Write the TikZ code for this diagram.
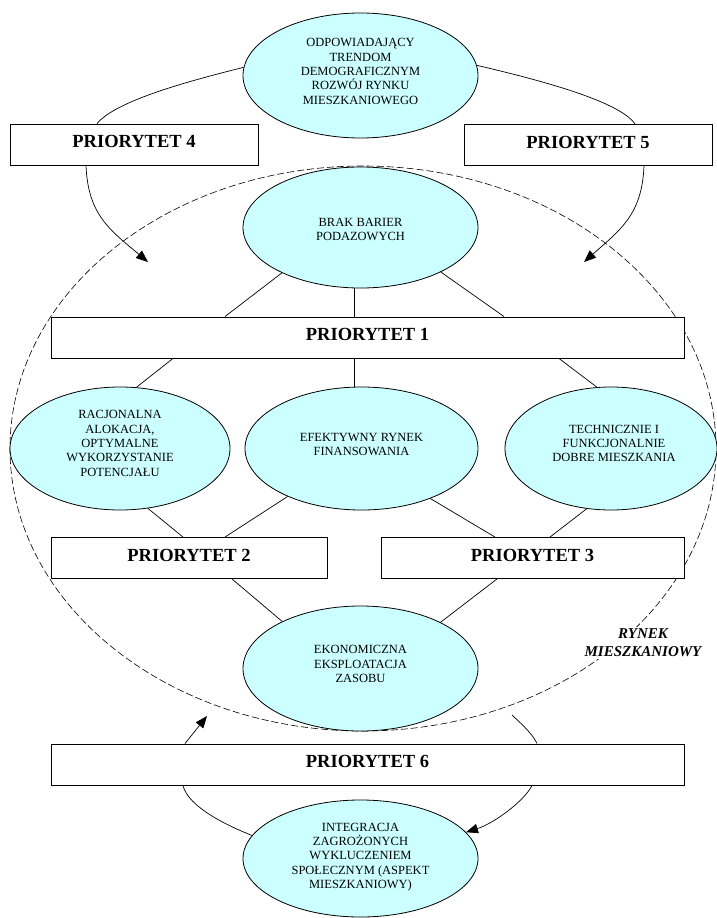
\documentclass[tikz,border=0pt]{standalone}
\usepackage{fontspec}
\setmainfont{Liberation Serif}
\usetikzlibrary{arrows.meta,shapes.geometric}
\definecolor{cyanfill}{RGB}{204,255,255}
\begin{document}
\begin{tikzpicture}[x=1pt,y=-1pt,
  ell/.style={ellipse, draw=black, line width=0.8pt, fill=cyanfill, inner sep=0pt},
  elltext/.style={inner sep=0pt, align=center, font=\fontsize{12.5}{14.3}\selectfont},
  prio/.style={rectangle, draw=black, line width=0.9pt, fill=white, inner sep=0pt,
    minimum height=41pt, text height=12.2pt, text depth=6pt,
    font=\fontsize{18.5}{20}\selectfont\bfseries},
  conn/.style={line width=0.7pt},
  arr/.style={line width=0.7pt, -{Triangle[length=12pt,width=9.5pt]}},
  market/.style={ellipse, draw=black, dash pattern=on 7pt off 3pt, line width=0.6pt, inner sep=0pt}
]
\useasboundingbox (0,0) rectangle (717,918);

% dashed market ellipse
\node[market, minimum width=706pt, minimum height=565pt] (mkt) at (363,448.5) {};
\node[fill=white, inner sep=2pt, align=center, font=\fontsize{15}{18}\selectfont\bfseries\itshape]
  (mktlabel) at (643,643) {RYNEK\\MIESZKANIOWY};

% ellipses
\node[ell, minimum width=235pt, minimum height=125pt] (ntop) at (360.5,75.5) {};
\node[elltext] (ntoptext) at ([yshift=4pt]ntop.center)
  {ODPOWIADAJĄCY\\TRENDOM\\DEMOGRAFICZNYM\\ROZWÓJ RYNKU\\MIESZKANIOWEGO};
\node[ell, minimum width=235pt, minimum height=121pt] (brak) at (360.5,227.5) {};
\node[elltext] (braktext) at ([yshift=-2pt]brak.center) {BRAK BARIER\\PODAZOWYCH};
\node[ell, minimum width=220pt, minimum height=123pt] (rac) at (120,448.5) {};
\node[elltext] (ractext) at ([yshift=5pt]rac.center)
  {RACJONALNA\\ALOKACJA,\\OPTYMALNE\\WYKORZYSTANIE\\POTENCJAŁU};
\node[ell, minimum width=233pt, minimum height=123pt] (efe) at (361.5,448.5) {};
\node[elltext] (efetext) at ([yshift=4pt]efe.center) {EFEKTYWNY RYNEK\\FINANSOWANIA};
\node[ell, minimum width=212pt, minimum height=123pt] (tech) at (611,448.5) {};
\node[elltext] (techtext) at ([xshift=3pt,yshift=5pt]tech.center)
  {TECHNICZNIE I\\FUNKCJONALNIE\\DOBRE MIESZKANIA};
\node[ell, minimum width=235pt, minimum height=125pt] (ekon) at (360.5,668.5) {};
\node[elltext] (ekontext) at ([yshift=4.5pt]ekon.center) {EKONOMICZNA\\EKSPLOATACJA\\ZASOBU};
\node[ell, minimum width=235pt, minimum height=117pt] (integ) at (360.5,858.5) {};
\node[elltext] (integtext) at ([yshift=1.5pt]integ.center)
  {INTEGRACJA\\ZAGROŻONYCH\\WYKLUCZENIEM\\SPOŁECZNYM (ASPEKT\\MIESZKANIOWY)};

% priority boxes
\node[prio, minimum width=248pt] (p4) at (134,144.5) {PRIORYTET 4};
\node[prio, minimum width=248pt] (p5) at (588,145) {PRIORYTET 5};
\node[prio, minimum width=633pt] (p1) at (367.5,337.5) {PRIORYTET 1};
\node[prio, minimum width=276pt] (p2) at (189,558) {PRIORYTET 2};
\node[prio, minimum width=303pt] (p3) at (532.5,558) {PRIORYTET 3};
\node[prio, minimum width=633pt] (p6) at (367.5,764.5) {PRIORYTET 6};

% free ends
\coordinate (tip4) at (148,262);
\coordinate (tip5) at (584,262);
\coordinate (tip6) at (207,716);
\coordinate (start6) at (512,715);

% top connectors
\draw[conn] (ntop.176) .. controls (185,82) and (116,101) .. ([xshift=-37pt]p4.north);
\draw[conn] (ntop.5) .. controls (522,76) and (618.5,99) .. ([xshift=47pt]p5.north);
\draw[arr] ([xshift=-48pt]p4.south) .. controls (88,215) and (110,230) .. (tip4);
\draw[arr] ([xshift=56pt]p5.south) .. controls (642,215) and (620,230) .. (tip5);

% brak to P1
\draw[conn] (brak.210) -- ([xshift=-142.5pt]p1.north);
\draw[conn] (brak.264) -- (brak.264 |- p1.north);
\draw[conn] (brak.331) -- ([xshift=136.5pt]p1.north);

% P1 to ellipses
\draw[conn] ([xshift=-194.5pt]p1.south) -- (rac.75);
\draw[conn] (efe.97 |- p1.south) -- (efe.97);
\draw[conn] ([xshift=191.5pt]p1.south) -- (tech.103);

% ellipses to P2 / P3
\draw[conn] (rac.295) -- ([xshift=-6pt]p2.north);
\draw[conn] (efe.213) -- ([xshift=36pt]p2.north);
\draw[conn] (efe.324) -- ([xshift=-37.5pt]p3.north);
\draw[conn] (tech.248) -- ([xshift=17.5pt]p3.north);

% P2 / P3 to ekon
\draw[conn] ([xshift=43pt]p2.south) -- (ekon.149);
\draw[conn] ([xshift=-35.5pt]p3.south) -- (ekon.30);

% P6 loop
\draw[arr] ([xshift=-182.5pt]p6.north) -- (tip6);
\draw[conn] (integ.168) .. controls (228,826) and (188,807) .. ([xshift=-184.5pt]p6.south);
\draw[conn] (start6) .. controls (525,727) and (533,735) .. ([xshift=169.5pt]p6.north);
\draw[arr] ([xshift=164.5pt]p6.south) .. controls (525,800) and (495,823) .. (integ.14);
\end{tikzpicture}
\end{document}
